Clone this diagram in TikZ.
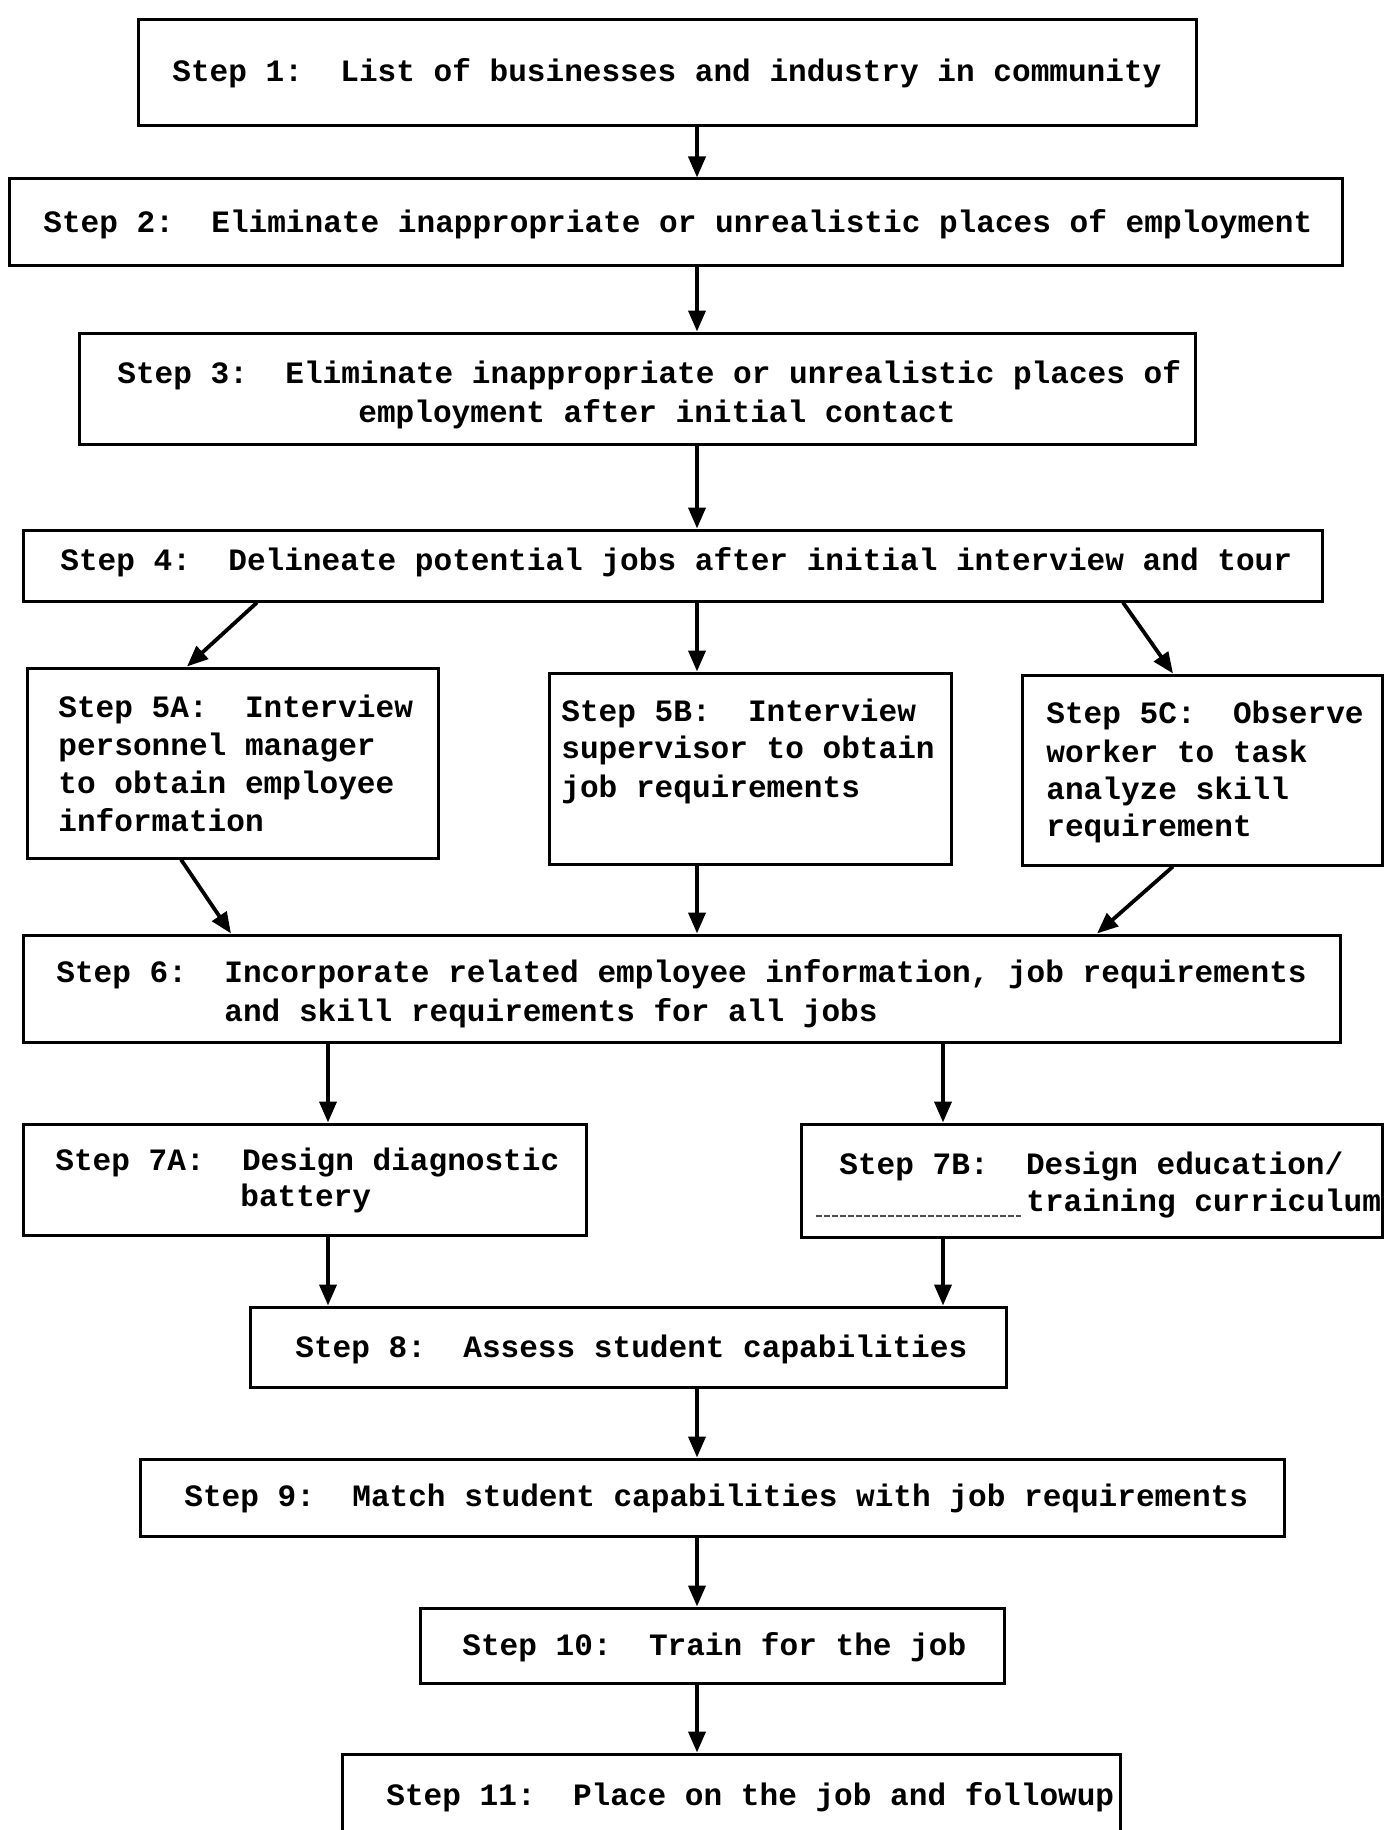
\documentclass[tikz,border=0pt]{standalone}
\usepackage{fontspec}
\setmonofont{Liberation Mono}
\usetikzlibrary{arrows.meta,fit}
\begin{document}
\begin{tikzpicture}[x=0.5pt,y=-0.5pt,
  box/.style={draw=black, line width=1.5pt, inner sep=0pt},
  txt/.style={anchor=base west, inner sep=0pt,
    font=\ttfamily\bfseries\fontsize{15.55pt}{19pt}\selectfont},
  arr/.style={line width=1.9pt, -{Triangle[length=10.5pt,width=8.5pt]}}]

% page
\fill[white] (0,0) rectangle (1389,1830);
\useasboundingbox (0,0) rectangle (1389,1830);

% boxes
\node[box, fit={(138,20)(1196,126)}]   (s1)  {};
\node[box, fit={(9,179)(1342,266)}]    (s2)  {};
\node[box, fit={(79,333)(1195,444)}]   (s3)  {};
\node[box, fit={(23,530)(1322,601)}]   (s4)  {};
\node[box, fit={(27,668)(438,858)}]    (s5a) {};
\node[box, fit={(549,673)(951,864)}]   (s5b) {};
\node[box, fit={(1022,675)(1382,865)}] (s5c) {};
\node[box, fit={(23,935)(1340,1042)}]  (s6)  {};
\node[box, fit={(23,1124)(586,1235)}]  (s7a) {};
\node[box, fit={(801,1124)(1382,1237)}] (s7b) {};
\node[box, fit={(250,1307)(1006,1387)}] (s8)  {};
\node[box, fit={(140,1459)(1284,1536)}] (s9)  {};
\node[box, fit={(420,1608)(1004,1683)}] (s10) {};
\node[box, fit={(342,1754)(1120,1860)}] (s11) {};

% texts
\node[txt] (t1)  at (172,82)   {Step 1:~ List of businesses and industry in community};
\node[txt] (t2)  at (43,233)   {Step 2:~ Eliminate inappropriate or unrealistic places of employment};
\node[txt] (t3a) at (117,383)  {Step 3:~ Eliminate inappropriate or unrealistic places of};
\node[txt] (t3b) at (358,422)  {employment after initial contact};
\node[txt] (t4)  at (60,570)   {Step 4:~ Delineate potential jobs after initial interview and tour};

\node[txt] (t5a1) at (58,717)  {Step 5A:~ Interview};
\node[txt] (t5a2) at (58,755)  {personnel manager};
\node[txt] (t5a3) at (58,793)  {to obtain employee};
\node[txt] (t5a4) at (58,831)  {information};

\node[txt] (t5b1) at (561,721) {Step 5B:~ Interview};
\node[txt] (t5b2) at (561,758) {supervisor to obtain};
\node[txt] (t5b3) at (561,797) {job requirements};

\node[txt] (t5c1) at (1046,723) {Step 5C:~ Observe};
\node[txt] (t5c2) at (1046,762) {worker to task};
\node[txt] (t5c3) at (1046,799) {analyze skill};
\node[txt] (t5c4) at (1046,836) {requirement};

\node[txt] (t6a) at (56,982)   {Step 6:~ Incorporate related employee information, job requirements};
\node[txt] (t6b) at (224,1021) {and skill requirements for all jobs};

\node[txt] (t7a1) at (55,1170)  {Step 7A:~ Design diagnostic};
\node[txt] (t7a2) at (240,1206) {battery};
\node[txt] (t7b1) at (839,1174) {Step 7B:~ Design education/};
\node[txt] (t7b2) at (1026,1211) {training curriculum};
% faint typed rule left of the second 7B line
\draw[black!70, line width=0.6pt, dash pattern=on 3pt off 1pt] (t7b2.base west) ++(-210,5) coordinate (u1) -- ++(205,0);

\node[txt] (t8)  at (295,1357) {Step 8:~ Assess student capabilities};
\node[txt] (t9)  at (184,1506) {Step 9:~ Match student capabilities with job requirements};
\node[txt] (t10) at (462,1655) {Step 10:~ Train for the job};
\node[txt] (t11) at (386,1805) {Step 11:~ Place on the job and followup};

% connectors
\coordinate (cx) at (697,0);
\coordinate (lx) at (328,0);
\coordinate (rx) at (943,0);
\draw[arr] (s1.south -| cx) -- (s2.north -| cx);
\draw[arr] (s2.south -| cx) -- (s3.north -| cx);
\draw[arr] (s3.south -| cx) -- (s4.north -| cx);
\draw[arr] (s4.south -| 257,0) -- (s5a.north -| 187,0);
\draw[arr] (s4.south -| cx) -- (s5b.north -| cx);
\draw[arr] (s4.south -| 1123,0) -- (s5c.north -| 1173,0);
\draw[arr] (s5a.south -| 181,0) -- (s6.north -| 231,0);
\draw[arr] (s5b.south -| cx) -- (s6.north -| cx);
\draw[arr] (s5c.south -| 1173,0) -- (s6.north -| 1097,0);
\draw[arr] (s6.south -| lx) -- (s7a.north -| lx);
\draw[arr] (s6.south -| rx) -- (s7b.north -| rx);
\draw[arr] (s7a.south -| lx) -- (s8.north -| lx);
\draw[arr] (s7b.south -| rx) -- (s8.north -| rx);
\draw[arr] (s8.south -| cx) -- (s9.north -| cx);
\draw[arr] (s9.south -| cx) -- (s10.north -| cx);
\draw[arr] (s10.south -| cx) -- (s11.north -| cx);
\end{tikzpicture}
\end{document}
